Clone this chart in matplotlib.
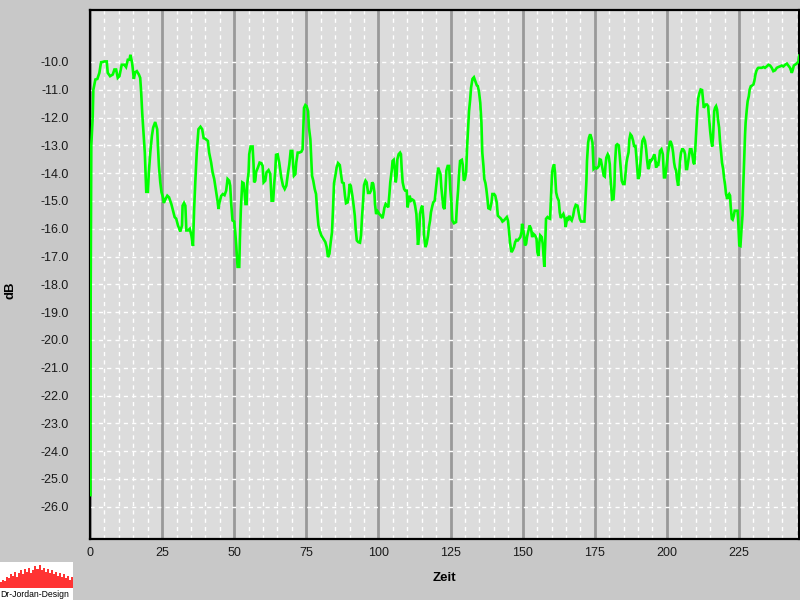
import matplotlib
matplotlib.use("Agg")
import matplotlib.pyplot as plt
from matplotlib.ticker import FixedLocator

plt.rcParams['font.family'] = ['Liberation Sans', 'DejaVu Sans']

# ---- data ----
zeit = [0.17, 0.2, 0.45, 0.93, 1.16, 1.86, 2.55, 3.25, 3.83, 4.4, 5.0, 5.8, 6.15, 6.96, 7.9, 8.47, 9.05, 9.63,
        10.2, 11.0, 11.95, 12.5, 13.1, 13.7, 14.0, 14.6, 15.2, 15.66, 16.24, 16.94, 17.4, 17.75, 18.1, 18.56,
        19.0, 19.26, 19.5, 20.07, 20.4, 20.9, 21.46, 21.9, 22.6, 23.3, 23.55, 23.9, 24.36, 24.8, 25.3, 25.6,
        26.1, 26.8, 27.4, 28.2, 28.8, 29.35, 29.9, 30.5, 31.3, 31.9, 32.1, 32.6, 33.06, 33.4, 34.0, 34.6,
        35.15, 35.7, 36.1, 36.5, 37.0, 37.6, 38.3, 38.9, 39.4,
        39.93, 40.86, 41.3, 42.0, 42.5, 43.06, 43.6, 44.2, 44.56, 44.9, 45.5, 46.06, 46.64, 47.2, 47.7, 48.26,
        48.6, 48.96, 49.4, 50.0, 50.35, 50.7, 51.16, 51.74, 51.97, 52.3, 52.8, 53.24, 53.6, 53.9, 54.3, 54.5,
        54.98, 55.2, 55.67, 56.37, 56.7, 56.9, 57.3, 57.6, 58.2, 58.8, 59.4, 59.84, 60.2, 60.76, 61.2, 61.9,
        62.5, 62.96, 63.5, 63.9, 64.2, 64.5, 65.05, 65.6, 66.3, 66.9, 67.5, 68.06, 68.6, 69.1, 69.56, 70.14,
        70.37, 70.7, 71.2, 71.5, 72.0, 72.57, 73.26, 73.7, 73.96, 74.2, 74.65, 75.1, 75.6, 75.9, 76.4, 76.7,
        76.97, 77.4, 77.9, 78.36, 78.8, 79.2, 79.6, 80.2, 80.9, 81.6, 82.06, 82.5, 83.0,
        83.45, 83.9, 84.25, 84.6, 85.06, 85.5, 86.0, 86.6, 87.0, 87.4, 87.95, 88.4, 88.76, 89.34, 89.7, 90.0,
        90.4, 90.96, 91.4, 91.8, 92.1, 92.5, 93.0, 93.6, 93.96, 94.3, 94.7, 95.0, 95.5, 95.9, 96.4, 97.0,
        97.4, 97.8, 98.2, 98.6, 98.8, 99.2, 99.7, 100.3, 100.9, 101.4, 101.7, 102.05, 102.5, 103.0, 103.4,
        103.8, 104.1, 104.6, 104.9, 105.3, 105.6, 106.0, 106.3, 106.56, 107.0, 107.5, 107.8, 108.06, 108.4,
        108.9, 109.3, 109.8, 110.1, 110.5, 110.8, 111.3, 111.8, 112.3, 112.7, 113.15, 113.5, 113.7, 114.1,
        114.4, 114.9, 115.2, 115.6, 115.8, 116.3, 116.7, 117.2, 117.5, 117.9, 118.2, 118.7, 119.0, 119.5,
        120.0, 120.4, 120.7, 121.1, 121.5, 121.8, 122.2, 122.5, 122.9, 123.2, 123.55, 124.0, 124.5,
        124.9, 125.3, 125.6, 126.2, 126.9, 127.2, 127.6, 127.9, 128.3, 128.9, 129.2, 129.6, 130.0, 130.4,
        130.7, 131.1, 131.4, 131.8, 132.1, 132.6, 133.1, 133.6, 134.1, 134.5, 134.9, 135.3, 135.7, 136.0,
        136.4, 136.7, 137.1, 137.4, 137.8, 138.1, 138.7, 139.2, 139.5, 140.1, 140.5, 141.0, 141.4, 141.9,
        142.5, 143.0, 143.5, 144.0, 144.5, 144.9, 145.3, 145.6, 146.1, 146.5, 147.0, 147.4, 147.8, 148.3,
        148.75, 149.2, 149.6, 149.8, 150.1, 150.5, 150.8, 151.2, 151.5, 152.0, 152.4, 152.9, 153.3, 153.7,
        154.3, 154.8, 155.1, 155.45, 155.8, 156.1, 156.6, 156.95, 157.3, 157.5, 157.8, 158.1, 158.6, 159.0,
        159.5, 159.85, 160.2, 160.5, 160.9, 161.2, 161.6, 162.0, 162.5, 162.85, 163.2, 163.7, 164.1, 164.6,
        164.9, 165.5, 165.9, 166.2, 166.55, 167.0, 167.5, 167.9, 168.4, 169.0, 169.3, 169.8, 170.25, 170.8,
        171.4, 171.75, 172.1, 172.3, 172.7, 173.0, 173.4, 173.8, 174.2, 174.4, 174.6, 175.1, 175.6, 176.0,
        176.4, 176.7, 177.1, 177.4, 177.8, 178.1, 178.45, 178.7, 179.0, 179.5, 179.8, 180.2, 180.4, 180.8,
        181.0, 181.5, 181.8, 182.0, 182.4, 182.8, 183.3, 183.65, 184.0, 184.35, 184.8, 185.3, 185.6, 186.0,
        186.3, 186.7, 187.0, 187.35, 187.8, 188.3, 188.6, 189.1, 189.4, 189.7, 190.0, 190.5, 190.8, 191.2,
        191.5, 192.0, 192.4, 192.8, 193.1, 193.5, 193.8, 194.2, 194.5, 194.9, 195.2, 195.6, 195.9, 196.25,
        196.6, 196.95, 197.3, 197.6, 198.1, 198.6, 198.8, 199.0, 199.4, 199.7, 200.1, 200.4, 200.8, 201.1,
        201.45, 201.8, 202.15, 202.5, 202.8, 203.2, 203.5, 203.9, 204.2, 204.6, 204.9, 205.3, 205.6, 206.0,
        206.3, 206.65, 207.0, 207.3, 207.7, 208.0, 208.5, 208.8, 209.2, 209.5, 209.9, 210.2, 210.6, 210.9,
        211.3, 211.7, 212.2, 212.5, 212.8, 213.1, 213.5, 213.9, 214.3, 214.6, 215.0, 215.3, 215.7, 216.0,
        216.4, 216.7, 217.05, 217.4, 217.7, 218.1, 218.4, 218.8, 219.1, 219.5, 219.8, 220.2, 220.5, 220.9,
        221.2, 221.6, 221.9, 222.1, 222.5, 222.8, 223.2, 223.5, 224.0, 224.5, 224.8, 225.1, 225.5, 225.8,
        226.2, 226.4, 226.6, 226.9, 227.1, 227.3, 227.7, 228.0, 228.4, 228.7, 229.1, 229.5, 230.0, 230.3,
        230.7, 231.0, 231.4, 231.7, 232.3, 232.9, 233.5, 234.0, 234.6, 235.2, 235.8, 236.35, 236.9, 237.5,
        238.1, 238.7, 239.2, 239.8, 240.4, 241.0, 241.6, 242.1, 242.7, 243.3, 243.6, 244.0, 244.4, 245.0,
        245.6, 245.9]

pegel_db = [-25.58, -19.3, -13.0, -12.0, -11.0, -10.63, -10.61, -10.39, -10.01, -10.0, -9.98, -9.98, -10.39,
            -10.51, -10.45, -10.27, -10.27, -10.57, -10.51, -10.10, -10.10, -10.18, -9.92, -9.92, -9.74, -10.03,
            -10.61, -10.37, -10.33, -10.45, -10.57, -11.11, -11.83, -12.54, -13.26, -13.97, -14.67, -14.67,
            -13.97, -13.26, -12.66, -12.36, -12.16, -12.42, -13.02, -13.74, -14.33, -14.69, -14.87, -15.07,
            -14.95, -14.81, -14.87, -15.11, -15.35, -15.58, -15.64, -15.88, -16.10, -15.88, -15.17, -15.07,
            -15.17, -16.06, -16.06, -16.0, -16.24, -16.62, -15.29, -14.33, -13.26, -12.42, -12.33, -12.42,
            -12.74,
            -12.76, -12.84, -13.26, -13.62, -13.97, -14.21, -14.57, -14.99, -15.29, -15.05, -14.81, -14.75,
            -14.79, -14.63, -14.21, -14.27, -14.45, -15.11, -15.70, -15.74, -16.12, -16.60, -17.37, -17.37,
            -16.36, -15.29, -14.33, -14.36, -14.69, -15.11, -15.11, -14.39, -13.97, -13.32, -13.04, -13.04,
            -13.68, -14.33, -14.27, -13.95, -13.80, -13.62, -13.64, -13.74, -14.33, -14.27, -13.97, -13.89,
            -14.03, -14.99, -14.99, -14.33, -13.97, -13.34, -13.32, -13.62, -14.15, -14.45, -14.57, -14.45,
            -14.03, -13.68, -13.20, -13.20, -13.62, -14.09, -14.03, -13.62, -13.26, -13.26, -13.23, -13.14,
            -12.42, -11.65, -11.55, -11.59, -11.77, -12.36, -12.78, -13.50, -14.09, -14.27, -14.57, -14.75,
            -15.41, -15.88, -16.06, -16.24, -16.36, -16.48, -16.66, -17.02, -16.90,
            -16.48, -16.12, -15.29, -14.36, -14.09, -13.80, -13.64, -13.71, -14.03, -14.33, -14.36, -14.81,
            -15.08, -15.05, -14.81, -14.39, -14.45, -14.81, -15.17, -15.53, -16.0, -16.42, -16.48, -16.50,
            -16.24, -15.58, -14.99, -14.43, -14.27, -14.33, -14.71, -14.71, -14.63, -14.33, -14.39, -14.69,
            -15.11, -15.47, -15.37, -15.47, -15.53, -15.62, -15.47, -15.25, -15.11, -15.17, -15.23, -14.75,
            -14.33, -13.91, -13.56, -13.52, -13.80, -14.33, -14.09, -13.50, -13.32, -13.26, -13.32, -13.85,
            -14.33, -14.57, -14.63, -14.63, -15.23, -14.99, -14.81, -14.99, -14.95, -14.99, -15.17, -15.47,
            -16.12, -16.58, -16.24, -15.47, -15.23, -15.17, -15.64, -16.24, -16.66, -16.54, -16.24, -15.94,
            -15.70, -15.41, -15.17, -15.05, -14.99, -14.51, -14.09, -13.80, -13.91, -14.03, -14.51, -14.93,
            -15.23, -15.29, -14.69, -13.91, -13.74, -13.74,
            -14.57, -15.05, -15.70, -15.80, -15.76, -15.17, -14.63, -14.09, -13.56, -13.52, -13.68, -14.27,
            -14.21, -13.97, -13.14, -12.33, -11.77, -11.35, -10.93, -10.61, -10.55, -10.69, -10.84, -10.87,
            -11.11, -11.47, -12.18, -13.26, -13.74, -14.21, -14.36, -14.57, -14.93, -15.26, -15.29, -15.05,
            -14.75, -14.75, -14.81, -15.05, -15.53, -15.58, -15.64, -15.74, -15.70, -15.64, -15.58, -15.70,
            -16.12, -16.48, -16.84, -16.78, -16.66, -16.48, -16.40, -16.42, -16.36, -16.30, -16.12, -15.82,
            -16.0, -16.24, -16.60, -16.54, -16.30, -16.06, -15.88, -16.0, -16.30, -16.18, -16.24, -16.36,
            -16.84, -16.98, -16.48, -16.24, -16.30, -16.54, -17.08, -17.37, -16.60, -15.64, -15.58, -15.62,
            -15.64, -14.81, -13.97, -13.80, -13.68, -13.97, -14.69, -14.87, -14.99, -15.41, -15.61, -15.53,
            -15.47, -15.64, -15.94, -15.58, -15.64, -15.53, -15.64, -15.70, -15.53, -15.29, -15.14, -15.17,
            -15.35, -15.64, -15.74, -15.74, -15.74, -14.99, -14.27, -13.56, -12.90, -12.72, -12.60, -12.72,
            -12.90, -13.38, -13.85, -13.80, -13.83, -13.80, -13.74, -13.50, -13.52, -13.68, -13.91, -14.09,
            -14.12, -13.74, -13.44, -13.32, -13.38, -13.68, -14.09, -14.63, -14.95, -14.93, -14.45, -13.68,
            -13.0, -12.96, -13.0, -13.38, -13.85, -14.27, -14.39, -14.39, -14.09, -13.62, -13.44, -13.26,
            -12.78, -12.60, -12.66, -12.84, -13.02, -13.02, -13.38, -13.80, -14.21, -14.09, -13.68, -13.14,
            -12.84, -12.74, -12.84, -13.14, -13.50, -13.85, -13.80, -13.50, -13.56, -13.50, -13.44, -13.32,
            -13.44, -13.80, -13.68, -13.74, -13.50, -13.20, -13.14, -13.32, -13.74, -14.15, -14.15, -13.91,
            -13.56, -13.26, -13.02, -12.84, -12.90, -13.02, -13.26, -13.62, -13.80, -13.91, -14.21, -14.45,
            -14.09, -13.50, -13.26, -13.14, -13.14, -13.20,
            -13.32, -13.85, -13.85, -13.64, -13.38, -13.14, -13.14, -13.32, -13.62, -13.68, -13.02, -12.42,
            -11.65, -11.29, -11.11, -10.99, -11.01, -11.35, -11.65, -11.59, -11.53, -11.53, -11.59, -12.0,
            -12.48, -12.78, -13.04, -12.72, -11.77, -11.65, -11.59, -11.71, -12.06, -12.36, -12.84, -13.26,
            -13.62, -13.85, -14.15, -14.45, -14.75, -14.93, -14.81, -14.75, -14.81, -15.17, -15.64, -15.67,
            -15.53, -15.35, -15.35, -15.35, -15.88, -16.60, -16.62, -16.12, -15.53, -14.69, -14.09, -13.14,
            -12.60, -12.18, -11.71, -11.41, -11.23, -10.99, -10.87, -10.85, -10.81, -10.69, -10.45, -10.33,
            -10.24, -10.21, -10.21, -10.21, -10.18, -10.21, -10.16, -10.10, -10.13, -10.21, -10.33, -10.30,
            -10.21, -10.18, -10.16, -10.13, -10.16, -10.10, -10.06, -10.13, -10.21, -10.39, -10.30, -10.13,
            -10.10, -10.06, -9.98, -9.77]

y_ticks = [-10, -11, -12, -13, -14, -15, -16, -17, -18, -19, -20, -21, -22, -23, -24, -25, -26]
x_ticks = [0, 25, 50, 75, 100, 125, 150, 175, 200, 225]
x_minor = [v for v in range(5, 250, 5) if v % 25 != 0]

logo_bars = [4, 6, 5, 8, 7, 10, 9, 12, 8, 11, 13, 10, 14, 12, 15, 11, 13, 16, 14, 17, 13, 15, 12, 14,
             11, 13, 10, 12, 9, 11, 8, 10, 7, 9, 6, 8]

# ---- figure ----
fig = plt.figure(figsize=(8, 6), dpi=100, facecolor='#c8c8c8')
ax = fig.add_axes([90/800, 1 - 539/600, 709/800, 529/600])
ax.set_facecolor('#dcdcdc')

ax.plot(zeit, pegel_db, color='#00ff00', lw=1.9, zorder=7, solid_joinstyle='miter')

ax.set_xlim(0, 245.8)
ax.set_ylim(-27.16, -8.13)

ax.xaxis.set_major_locator(FixedLocator(x_ticks))
ax.xaxis.set_minor_locator(FixedLocator(x_minor))
ax.yaxis.set_major_locator(FixedLocator(y_ticks))
ax.set_yticklabels([f"{v:.1f}" for v in y_ticks])
ax.set_xticklabels([str(v) for v in x_ticks])

ax.grid(which='major', axis='x', color='#999999', lw=2.0, ls='-', zorder=1)
ax.grid(which='minor', axis='x', color='white', lw=1.0, ls=(0, (3, 3)), zorder=1)
ax.grid(which='major', axis='y', color='white', lw=1.0, ls=(0, (3, 3)), zorder=1)
ax.set_axisbelow(True)

ax.tick_params(axis='both', which='both', length=0, labelsize=9, colors='#1a1a1a')
ax.tick_params(axis='y', pad=15)
ax.tick_params(axis='x', pad=6)

for s in ax.spines.values():
    s.set_color('black')
    s.set_linewidth(1.6)
    s.set_zorder(6)

ax.set_xlabel('Zeit', fontsize=9.5, fontweight='bold', labelpad=9)
fig.text(10/800, 1 - 290/600, 'dB', rotation=90, fontsize=9.5, fontweight='bold',
         ha='center', va='center')

# ---- logo ----
lax = fig.add_axes([0, 0, 73/800, 38/600])
lax.set_facecolor('white')
lax.bar(range(len(logo_bars)), logo_bars, width=1.0, color='#ff3333', bottom=0)
lax.set_xlim(-0.5, len(logo_bars) - 0.5)
lax.set_ylim(-9.1, 19.2)
lax.set_xticks([])
lax.set_yticks([])
for s in lax.spines.values():
    s.set_visible(False)
lax.text(0.0, 0.02, 'Dr-Jordan-Design', transform=lax.transAxes, fontsize=6.2,
         ha='left', va='bottom', color='black')

fig.savefig('out.png', dpi=100, facecolor=fig.get_facecolor())
